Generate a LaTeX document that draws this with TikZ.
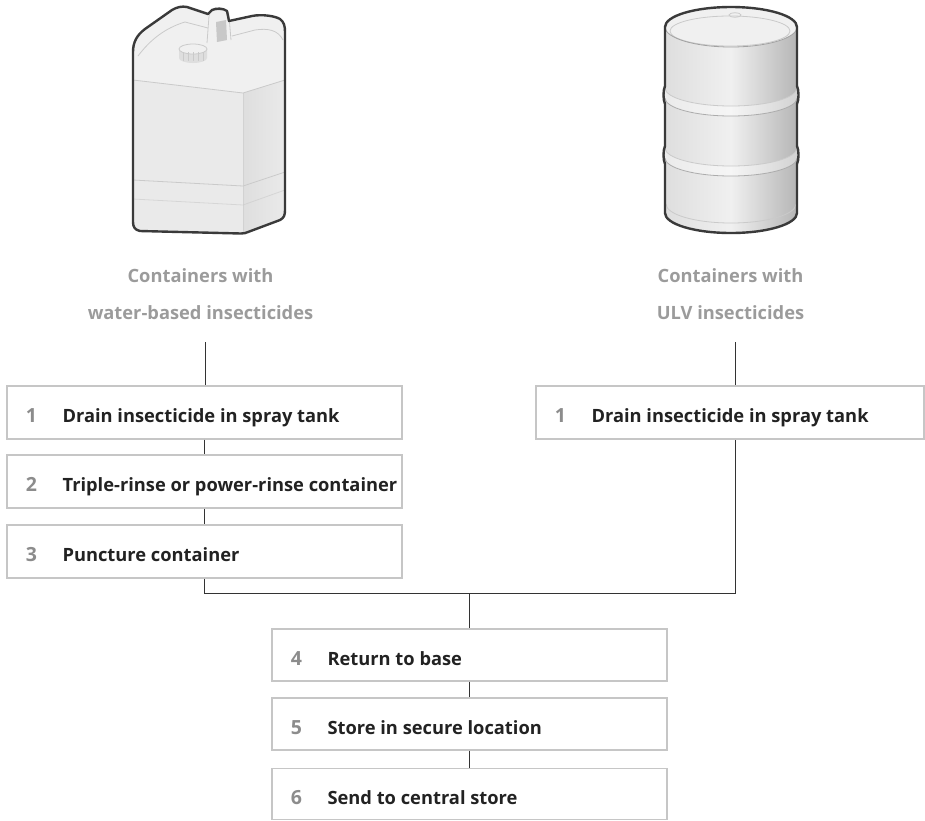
\documentclass[tikz,border=0pt]{standalone}
\usepackage{fontspec}
\setmainfont{Open Sans}
\definecolor{boxborder}{HTML}{C6C6C6}
\definecolor{numgray}{HTML}{8C8C8C}
\definecolor{titlegray}{HTML}{9B9B9B}
\definecolor{textdark}{HTML}{222222}
\definecolor{linecol}{HTML}{333333}
\definecolor{artline}{HTML}{3A3A3A}
\definecolor{cantop}{HTML}{F0F0F0}
\definecolor{canfront}{HTML}{EAEAEA}
\definecolor{canside}{HTML}{DEDEDE}
\definecolor{canedge}{HTML}{CACACA}
\begin{document}
\begin{tikzpicture}[x=1pt,y=-1pt,
  stepbox/.style={draw=boxborder, line width=1.3pt, minimum width=395pt, minimum height=53pt, inner sep=0pt},
  stepnum/.style={font=\bfseries\fontsize{19.5}{22}\selectfont, text=numgray, anchor=base, inner sep=0pt},
  steptext/.style={font=\bfseries\fontsize{18.3}{22}\selectfont, text=textdark, anchor=base west, inner sep=0pt},
  heading/.style={font=\bfseries\fontsize{18.3}{37}\selectfont, text=titlegray, align=center},
  link/.style={draw=linecol, line width=1pt},
  outline/.style={draw=artline, line width=2.4pt, line join=round},
  faint/.style={draw=canedge, line width=0.8pt}
]
\useasboundingbox (0,0) rectangle (925,820);

% ---------- jerrycan ----------
\fill[cantop] (140,231) .. controls (135,230) and (133,227) .. (133,222) -- (133,52)
  .. controls (133,42) and (137,35) .. (145,29) -- (172,10) .. controls (177,7) and (182,6) .. (187,7)
  -- (208,14) -- (212,10) .. controls (216,8) and (223,8) .. (227,11) -- (229,21) -- (252,16)
  .. controls (262,14) and (275,16) .. (280,19) .. controls (284,22) and (285,26) .. (285,32)
  -- (285,210) .. controls (285,215) and (284,218) .. (280,220) -- (248,232)
  .. controls (246,233) and (244,233.5) .. (241,233.5) -- cycle;
% front face
\fill[canfront] (133,80) -- (243,93) -- (243,233.5) -- (140,231) .. controls (135,230) and (133,227) .. (133,222) -- cycle;
% side face
\shade[left color=canside, right color=canfront] (243,93) -- (285,80) -- (285,210) .. controls (285,215) and (284,218) .. (280,220) -- (248,232) .. controls (246,233) and (244,233.5) .. (243,233.5) -- cycle;
% ridges and edges
\draw[faint] (133,80) -- (243,93) -- (285,80);
\draw[faint, draw opacity=0.6] (243,93) -- (243,233);
\draw[faint] (133,180) -- (243,186) -- (285,172);
\draw[faint, draw opacity=0.6] (133,199) -- (243,205) -- (285,190);
\draw[faint] (138,56) .. controls (150,40) and (165,28) .. (185,22) -- (208,28);
\draw[faint] (232,36) -- (255,30) .. controls (268,28) and (278,30) .. (283,40);
% handle
\fill[cantop] (207,43) -- (209,16) .. controls (210,11) and (213,10) .. (216,10) -- (224,10)
  .. controls (227,10) and (229,12) .. (229,16) -- (231,40) -- cycle;
\fill[canside!90!black] (216,22) -- (226,20) -- (227,40) -- (217,42) -- cycle;
\draw[faint] (207,43) -- (209,16) .. controls (210,11) and (213,10) .. (216,10) -- (224,10)
  .. controls (227,10) and (229,12) .. (229,16) -- (231,40);
% cap
\fill[canside] (179,49) -- (179,58) arc[start angle=180, end angle=0, x radius=14, y radius=5] -- (207,49) -- cycle;
\fill[cantop] (193,49) ellipse[x radius=14, y radius=5];
\draw[faint] (193,49) ellipse[x radius=14, y radius=5];
\foreach \gx in {183,188,193,198,203} \draw[canedge, line width=0.5pt] (\gx,52) -- (\gx,61);
% outline
\draw[outline] (140,231) .. controls (135,230) and (133,227) .. (133,222) -- (133,52)
  .. controls (133,42) and (137,35) .. (145,29) -- (172,10) .. controls (177,7) and (182,6) .. (187,7)
  -- (208,14) -- (212,10) .. controls (216,8) and (223,8) .. (227,11) -- (229,21) -- (252,16)
  .. controls (262,14) and (275,16) .. (280,19) .. controls (284,22) and (285,26) .. (285,32)
  -- (285,210) .. controls (285,215) and (284,218) .. (280,220) -- (248,232)
  .. controls (246,233) and (244,233.5) .. (241,233.5) -- cycle;

% ---------- drum ----------
\shade[left color=canside, right color=canedge!90!black, middle color=cantop]
  (665,27) -- (665,213) arc[start angle=180, end angle=0, x radius=66, y radius=20] -- (797,27) -- cycle;
\fill[cantop] (731,27) ellipse[x radius=66, y radius=20];
\draw[faint] (730,31) ellipse[x radius=60, y radius=15];
\draw[faint] (735,15) ellipse[x radius=6, y radius=2.2];
\draw[canedge!80!black, line width=0.8pt] (665,27) arc[start angle=180, end angle=0, x radius=66, y radius=20];
\foreach \ry in {88,148} {
  \fill[white, opacity=0.4] (665,\ry) arc[start angle=180, end angle=0, x radius=66, y radius=18]
    -- ++(0,10) arc[start angle=0, end angle=180, x radius=66, y radius=18] -- cycle;
  \draw[canedge, line width=0.8pt] (665,\ry) arc[start angle=180, end angle=0, x radius=66, y radius=18];
  \draw[canedge!85!black, line width=0.8pt] (665,\ry+10) arc[start angle=180, end angle=0, x radius=66, y radius=18];
}
\draw[faint] (666,204) arc[start angle=180, end angle=0, x radius=65, y radius=19];
\draw[outline] (665,27) -- (665,86) .. controls (663,90) and (663,100) .. (665,104) -- (665,146)
  .. controls (663,150) and (663,160) .. (665,164) -- (665,213)
  arc[start angle=180, end angle=0, x radius=66, y radius=20]
  -- (797,164) .. controls (799,160) and (799,150) .. (797,146) -- (797,104)
  .. controls (799,100) and (799,90) .. (797,86) -- (797,27)
  arc[start angle=0, end angle=-180, x radius=66, y radius=20] -- cycle;

% ---------- headings ----------
\node[heading] (hw) at (200.5,294) {Containers with\\water-based insecticides};
\node[heading] (hu) at (730.5,294) {Containers with\\ULV insecticides};
\coordinate (hwfoot) at (205,342);
\coordinate (hufoot) at (735,342);

% ---------- steps ----------
\node[stepbox] (w1) at (204.5,412.5) {};
\node[stepbox] (w2) at (204.5,481.5) {};
\node[stepbox] (w3) at (204.5,551.5) {};
\node[stepbox, minimum width=388pt] (u1) at (730,412.5) {};
\node[stepbox, minimum height=52pt] (s4) at (469.5,655) {};
\node[stepbox, minimum height=52pt] (s5) at (469.5,724) {};
\node[stepbox, minimum height=51pt] (s6) at (469.5,794) {};

\foreach \b/\n/\t in {w1/1/Drain insecticide in spray tank,
                      w2/2/Triple-rinse or power-rinse container,
                      w3/3/Puncture container,
                      u1/1/Drain insecticide in spray tank,
                      s4/4/Return to base,
                      s5/5/Store in secure location,
                      s6/6/Send to central store} {
  \node[stepnum] (\b-n) at ([xshift=25pt, yshift=-10pt]\b.west) {\n};
  \node[steptext] (\b-t) at ([xshift=56pt, yshift=-10pt]\b.west) {\t};
}

% ---------- connectors ----------
\coordinate (join) at (469.5,593);
\draw[link] (hwfoot) -- (hwfoot |- w1.north);
\draw[link] (w1.south) -- (w2.north);
\draw[link] (w2.south) -- (w3.north);
\draw[link] (hufoot) -- (hufoot |- u1.north);
\draw[link] (w3.south) -- (w3.south |- join) -- (join -| hufoot) -- (hufoot |- u1.south);
\draw[link] (join) -- (s4.north);
\draw[link] (s4.south) -- (s5.north);
\draw[link] (s5.south) -- (s6.north);
\end{tikzpicture}
\end{document}
